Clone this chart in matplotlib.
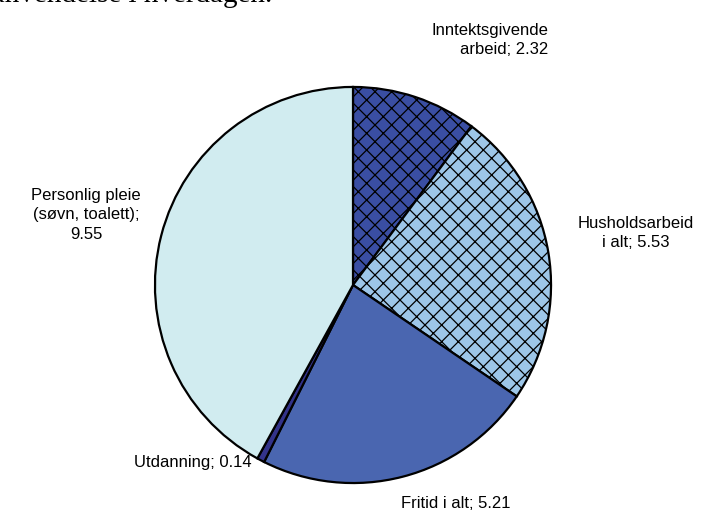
import matplotlib
matplotlib.use("Agg")
import matplotlib.pyplot as plt

# data
labels = ["Inntektsgivende\narbeid; 2.32", "Husholdsarbeid\ni alt; 5.53",
          "Fritid i alt; 5.21", "Utdanning; 0.14",
          "Personlig pleie\n(søvn, toalett);\n9.55"]
values = [2.32, 5.53, 5.21, 0.14, 9.55]
colors = ["#3a4ea3", "#9dc6e8", "#4a66b0", "#33338a", "#d1ecf0"]
hatches = ["xx", "xx", None, None, None]

plt.rcParams["font.family"] = ["Liberation Sans", "DejaVu Sans"]
plt.rcParams["hatch.linewidth"] = 0.9

W, H = 716, 518
fig = plt.figure(figsize=(W / 100, H / 100), dpi=100)

# pie centre and radius in pixels
cx, cy, r = 353, 285, 202
ax = fig.add_axes([(cx - r) / W, (H - cy - r) / H, 2 * r / W, 2 * r / H])
wedges, _ = ax.pie(values, colors=colors, startangle=90, counterclock=False,
                   radius=1, wedgeprops=dict(edgecolor="black", linewidth=1.6))
for w, h in zip(wedges, hatches):
    if h:
        w.set_hatch(h)
ax.set_xlim(-1.02, 1.02)
ax.set_ylim(-1.02, 1.02)
ax.set_aspect("equal")
ax.axis("off")

def px(x, y):
    return x / W, 1 - y / H

fs = 12
fig.text(*px(548, 40), labels[0], ha="right", va="center", fontsize=fs,
         multialignment="right", linespacing=1.35)
fig.text(*px(636, 233), labels[1], ha="center", va="center", fontsize=fs,
         linespacing=1.35)
fig.text(*px(456, 503), labels[2], ha="center", va="center", fontsize=fs)
fig.text(*px(193, 462), labels[3], ha="center", va="center", fontsize=fs)
fig.text(*px(86, 215), labels[4], ha="center", va="center", fontsize=fs,
         linespacing=1.35)

# title line cut off at the top edge of the original (only its foot shows)
fig.text(*px(272, 2), "Tidsanvendelse i hverdagen.", ha="right",
         va="baseline", fontsize=21, family="Liberation Serif")

fig.savefig("out.png", dpi=100)
